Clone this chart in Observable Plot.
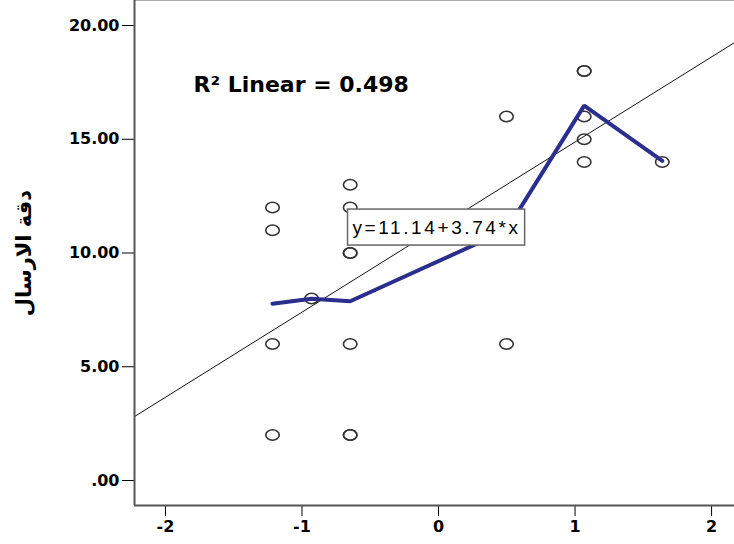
<!DOCTYPE html>
<html>
<head>
<meta charset="utf-8">
<script src="https://cdn.jsdelivr.net/npm/d3@7"></script>
<script src="https://cdn.jsdelivr.net/npm/@observablehq/plot@0.6"></script>
<style>
  html, body { margin: 0; padding: 0; background: white; }
</style>
</head>
<body>
<div id="chart"></div>
<script>
// ---- data ----
const pointX = [-1.216, -1.216, -1.216, -1.216, -0.93, -0.647, -0.647, -0.647, -0.647, -0.647, -0.647, -0.647, 0.498, 0.498, 1.067, 1.067, 1.067, 1.067, 1.067, 1.639];
const pointY = [12, 11, 6, 2, 8, 13, 12, 10, 10, 6, 2, 2, 16, 6, 18, 18, 16, 15, 14, 14];

const fitX = [-1.216, -0.93, -0.647, 0.498, 1.067, 1.639];
const fitY = [7.77, 7.99, 7.88, 11.0, 16.48, 14.05];

const intercept = 11.14;
const slope = 3.74;
const r2Text = "R\u00B2 Linear = 0.498";
const eqText = "y=11.14+3.74*x";
const yLabel = "دقة الارسال";

const xTicks = [-2, -1, 0, 1, 2];
const yTicks = [0, 5, 10, 15, 20];

// annotation anchors (data units)
const r2Pos = [{x: -1.795, y: 17.4}];
const eqPos = [{x: -0.63, y: 11.1}];

// ---- layout ----
const xDomain = [-2.227, 2.168];
const yDomain = [-1.099, 21.1];

const points = pointX.map((x, i) => ({x, y: pointY[i]}));
const fit = fitX.map((x, i) => ({x, y: fitY[i]}));
const regLine = xDomain.map(x => ({x, y: intercept + slope * x}));

// slightly wide ellipse symbol like the SPSS markers
const ellipse = {
  draw(context, size) {
    const r = Math.sqrt(size / Math.PI);
    const rx = r * 1.3, ry = r;
    const k = 0.5523;
    context.moveTo(rx, 0);
    context.bezierCurveTo(rx, ry * k, rx * k, ry, 0, ry);
    context.bezierCurveTo(-rx * k, ry, -rx, ry * k, -rx, 0);
    context.bezierCurveTo(-rx, -ry * k, -rx * k, -ry, 0, -ry);
    context.bezierCurveTo(rx * k, -ry, rx, -ry * k, rx, 0);
    context.closePath();
  }
};

const plot = Plot.plot({
  width: 734,
  height: 544,
  marginLeft: 134,
  marginRight: 0,
  marginTop: 0,
  marginBottom: 39,
  style: {
    fontFamily: "'DejaVu Sans', sans-serif",
    fontSize: "16px",
    fontWeight: "bold",
    background: "white",
    color: "black",
    overflow: "visible"
  },
  x: {
    domain: xDomain,
    ticks: xTicks,
    tickFormat: d => d3.format("d")(d).replace("\u2212", "-"),
    tickSize: 11,
    tickPadding: 4,
    label: null
  },
  y: {
    domain: yDomain,
    ticks: yTicks,
    tickFormat: d => d === 0 ? ".00" : d.toFixed(2),
    tickSize: 12,
    tickPadding: 3,
    label: null
  },
  marks: [
    Plot.ruleY([yDomain[1]], {stroke: "#aaa", strokeWidth: 1}),
    Plot.dot(points, {x: "x", y: "y", r: 5.2, symbol: ellipse, stroke: "#333", strokeWidth: 1.6, fill: "none"}),
    Plot.line(regLine, {x: "x", y: "y", stroke: "#111", strokeWidth: 1, clip: true}),
    Plot.line(fit, {x: "x", y: "y", stroke: "#2b2e8c", strokeWidth: 4, strokeLinejoin: "miter"}),
    Plot.text(r2Pos, {x: "x", y: "y", text: () => r2Text, textAnchor: "start", fontSize: 22, fontWeight: "bold", fill: "black"}),
    Plot.text(eqPos, {x: "x", y: "y", text: () => eqText, textAnchor: "start", fontSize: 19, fontWeight: "normal", fontFamily: "'Liberation Sans', Arial, sans-serif", fill: "black"}),
    Plot.text([yLabel], {frameAnchor: "left", dx: -110, rotate: -90, textAnchor: "middle", text: d => d, fontSize: 21, fontWeight: "bold", fill: "black"}),
    Plot.ruleX([xDomain[0]], {stroke: "#555", strokeWidth: 2}),
    Plot.ruleY([yDomain[0]], {stroke: "#555", strokeWidth: 2})
  ]
});

document.getElementById("chart").appendChild(plot);

// draw the white boxed background behind the equation label
const t = Array.from(plot.querySelectorAll("text")).find(n => n.textContent === eqText);
if (t) {
  t.setAttribute("letter-spacing", "2.6");
  t.style.letterSpacing = "2.6px";
  const bb = t.getBBox();
  const rect = document.createElementNS("http://www.w3.org/2000/svg", "rect");
  rect.setAttribute("x", bb.x - 5);
  rect.setAttribute("y", bb.y - 8);
  rect.setAttribute("width", bb.width + 9);
  rect.setAttribute("height", bb.height + 15);
  rect.setAttribute("fill", "white");
  rect.setAttribute("stroke", "#666");
  rect.setAttribute("stroke-width", "1.5");
  if (t.getAttribute("transform")) rect.setAttribute("transform", t.getAttribute("transform"));
  t.parentNode.insertBefore(rect, t);
}
</script>
</body>
</html>
